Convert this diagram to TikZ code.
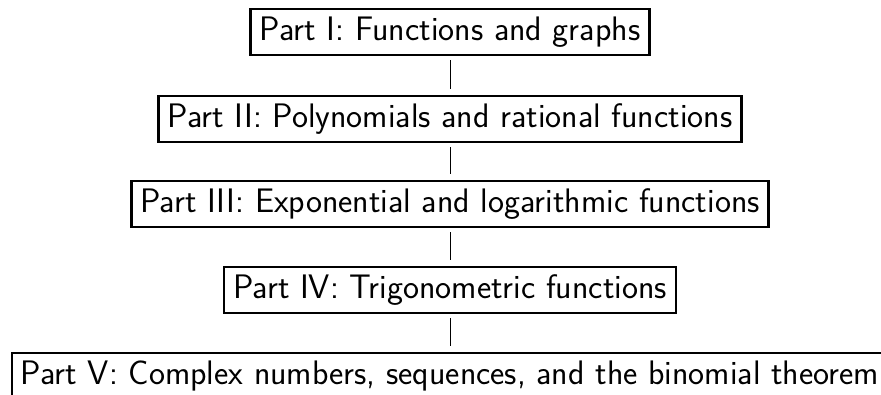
\documentclass[tikz,border=0pt]{standalone}
\begin{document}
\begin{tikzpicture}[x=1pt,y=-1pt,
  partbox/.style={draw, line width=2.6pt, minimum height=46pt, inner xsep=9pt, inner ysep=0pt,
    font=\sffamily\fontsize{34}{40}\selectfont, anchor=center},
  link/.style={line width=1pt, shorten <=4pt, shorten >=6pt}]
\useasboundingbox (0,0) rectangle (881,394);
\node[partbox] (p1) at (450,32) {Part I: Functions and graphs};
\node[partbox] (p2) at (450,119) {Part II: Polynomials and rational functions};
\node[partbox] (p3) at (450,204) {Part III: Exponential and logarithmic functions};
\node[partbox] (p4) at (450,290) {Part IV: Trigonometric functions};
\node[partbox] (p5) at (450,376) {Part V: Complex numbers, sequences, and the binomial theorem};
\draw[link] (p1) -- (p2);
\draw[link] (p2) -- (p3);
\draw[link] (p3) -- (p4);
\draw[link] (p4) -- (p5);
\end{tikzpicture}
\end{document}
